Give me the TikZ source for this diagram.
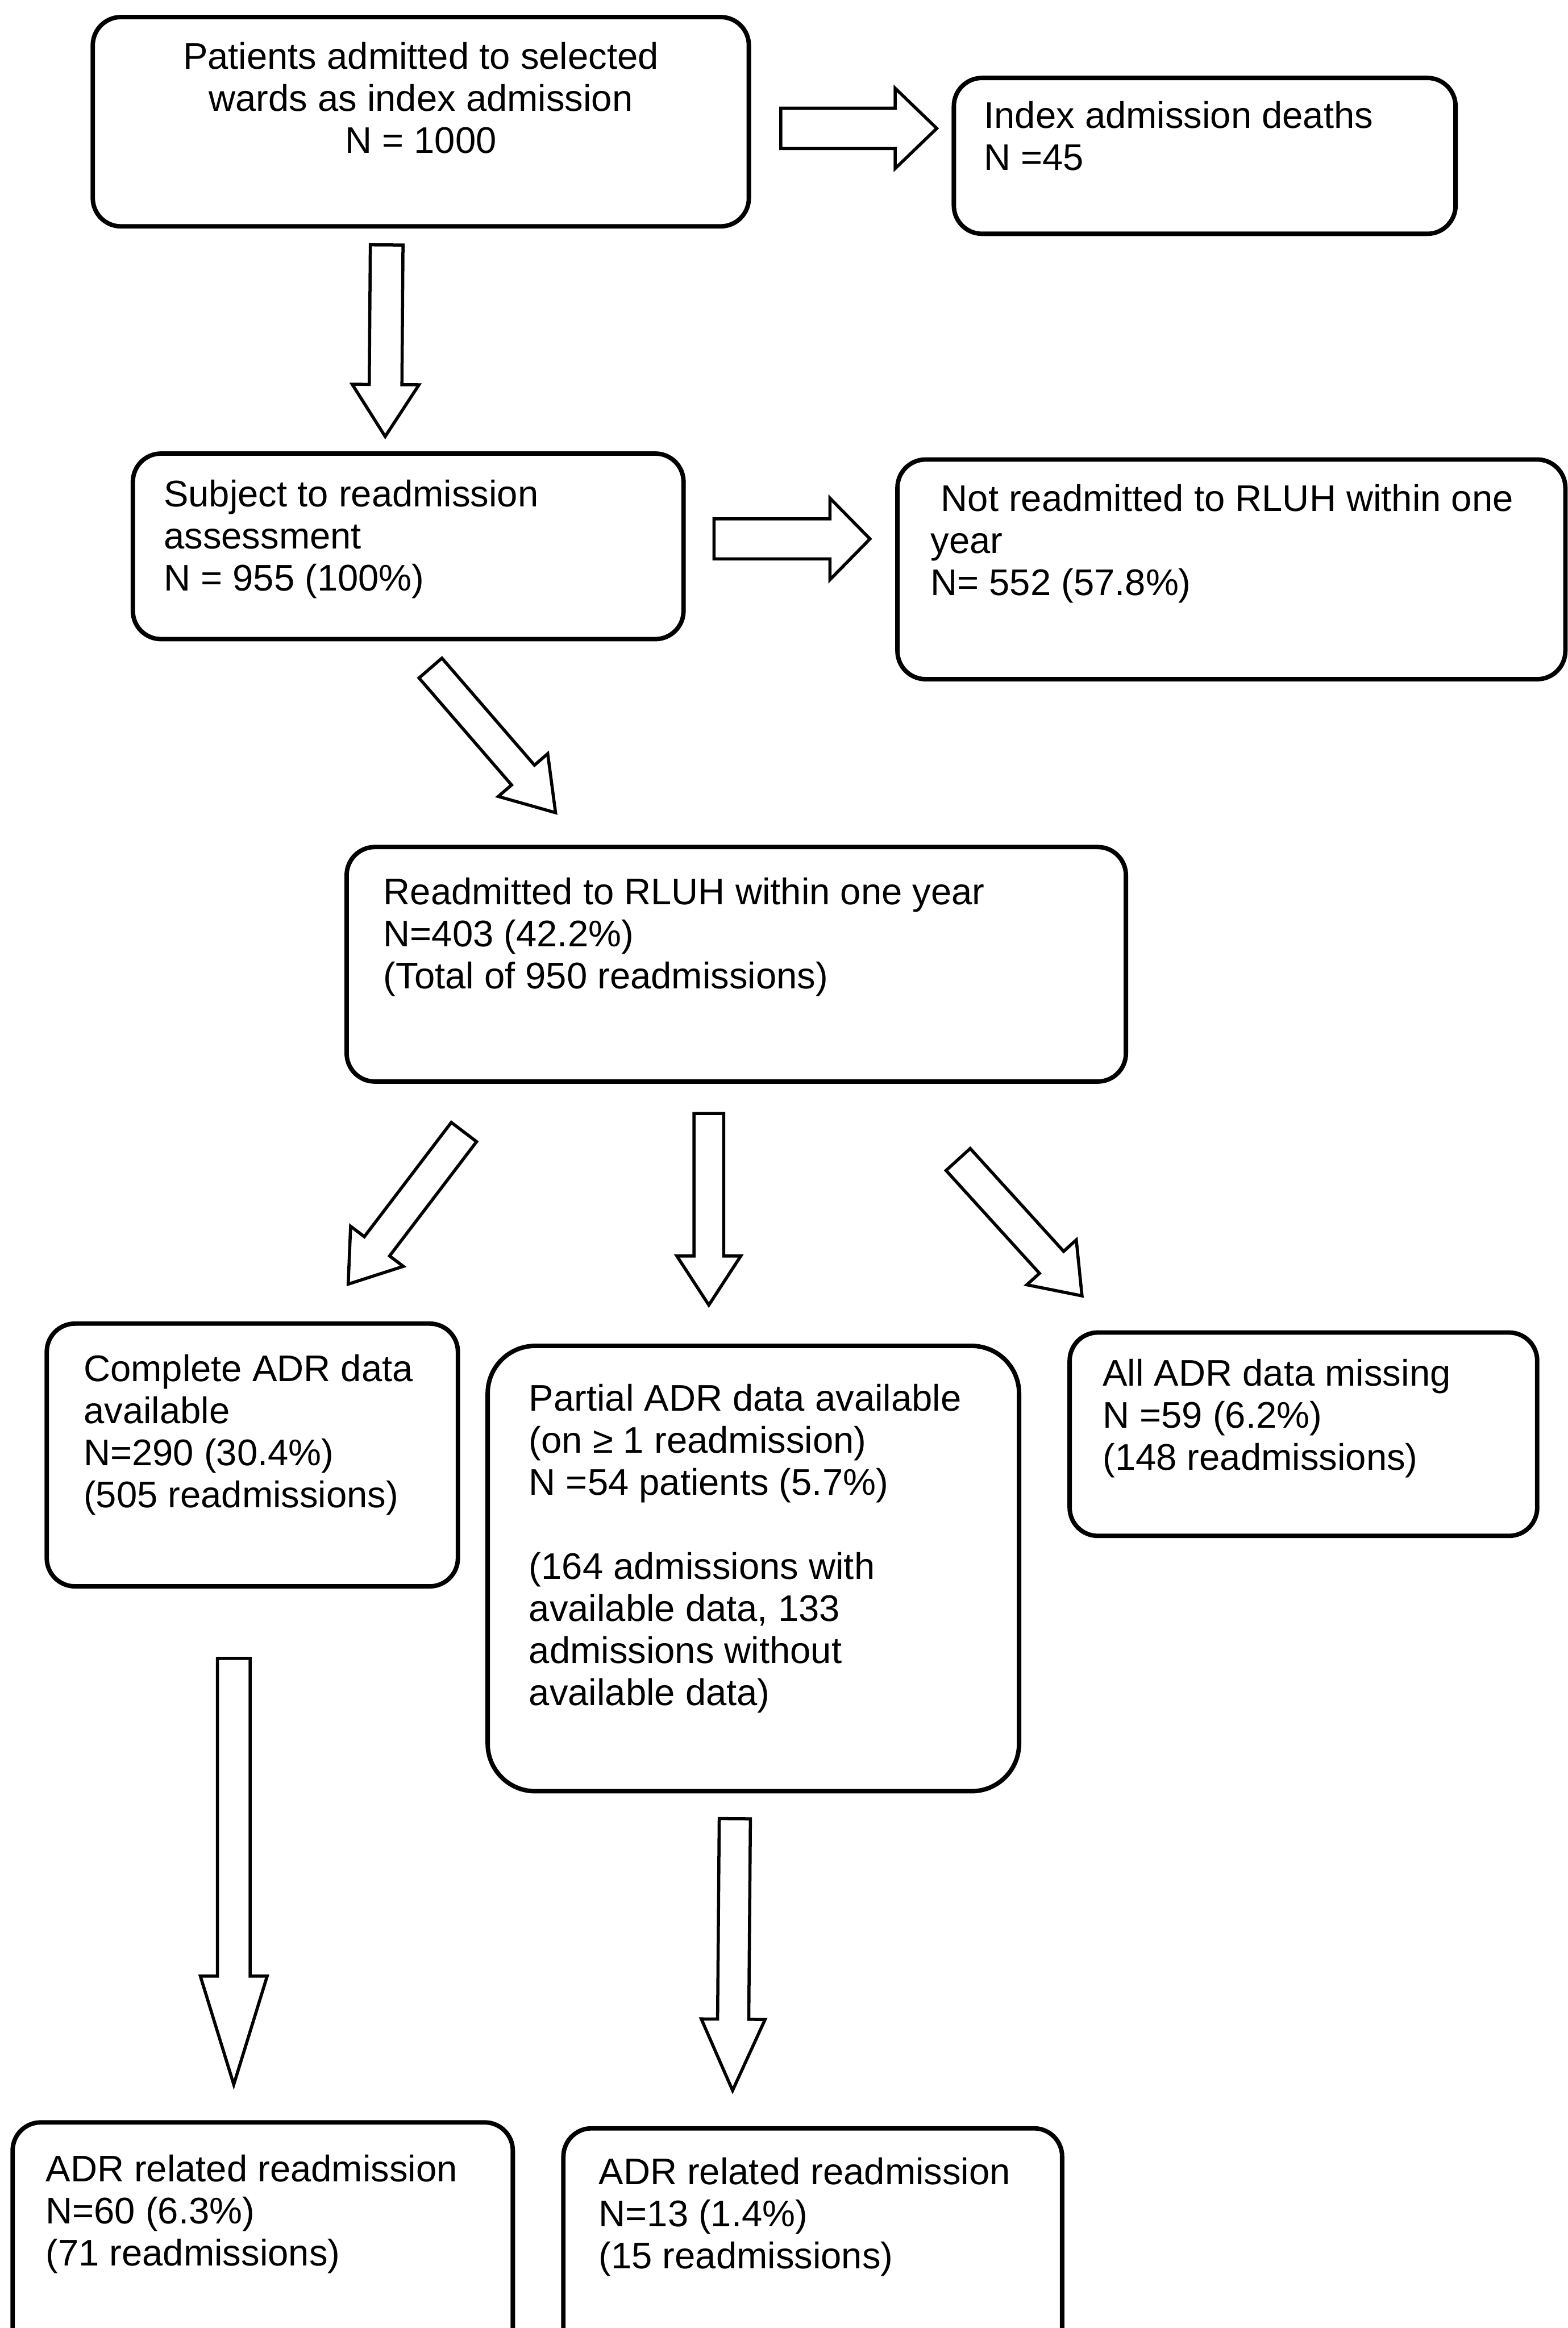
\documentclass[tikz,border=0pt]{standalone}
\usepackage{fontspec}
\setmainfont{Liberation Sans}
\usetikzlibrary{positioning,calc}
\newcommand\fatarrow[5]{%
  \draw[fat] let \p1=#1, \p2=#2, \n1={atan2(\y2-\y1,\x2-\x1)}, \n2={veclen(\x2-\x1,\y2-\y1)} in
    [shift={(\p1)},rotate=\n1]
    (0pt,{#3*0.02cm}) -- ({\n2-#5*0.02cm},{#3*0.02cm}) -- ({\n2-#5*0.02cm},{#4*0.02cm})
    -- ({\n2+0pt},0pt) -- ({\n2-#5*0.02cm},{-#4*0.02cm}) -- ({\n2-#5*0.02cm},{-#3*0.02cm})
    -- (0pt,{-#3*0.02cm}) -- cycle;}
\begin{document}
\begin{tikzpicture}[x=0.02cm,y=-0.02cm,font=\fontsize{14.2}{16.1}\selectfont,
panel/.style={draw,line width=1.7pt,rounded corners=0.38cm,anchor=north west,inner sep=0pt},
wide/.style={panel,rounded corners=0.64cm},
words/.style={inner sep=0pt,align=left},
fat/.style={draw,line width=1.2pt,line join=miter}]
\useasboundingbox (0,0) rectangle (1056,1568);
\clip (0,0) rectangle (1056,1568);

\node[panel,minimum width=8.84cm,minimum height=2.82cm] (adm) at (61,10) {};
\node[words,align=center,below=0.36cm of adm.north] (admtext)
  {Patients admitted to selected\\wards as index admission\\N = 1000};
\node[panel,minimum width=6.76cm,minimum height=2.10cm] (deaths) at (641,51) {};
\node[words,below right=0.34cm and 0.43cm of deaths.north west] (deathstext)
  {Index admission deaths\\N =45};

\node[panel,minimum width=7.42cm,minimum height=2.50cm] (assess) at (88,304) {};
\node[words,below right=0.38cm and 0.44cm of assess.north west] (assesstext)
  {Subject to readmission\\assessment\\N = 955 (100\%)};
\node[panel,minimum width=9.00cm,minimum height=2.96cm] (notread) at (603,308) {};
\node[words,below right=0.36cm and 0.47cm of notread.north west] (notreadtext)
  {\hspace*{0.28em}Not readmitted to RLUH within one\\year\\N= 552 (57.8\%)};

\node[panel,minimum width=10.50cm,minimum height=3.16cm] (readm) at (232,569) {};
\node[words,below right=0.44cm and 0.52cm of readm.north west] (readmtext)
  {Readmitted to RLUH within one year\\N=403 (42.2\%)\\(Total of 950 readmissions)};

\node[panel,minimum width=5.54cm,minimum height=3.54cm] (compl) at (30,890) {};
\node[words,below right=0.44cm and 0.52cm of compl.north west] (compltext)
  {Complete ADR data\\available\\N=290 (30.4\%)\\(505 readmissions)};
\node[wide,minimum width=7.16cm,minimum height=6.00cm] (partial) at (327,905) {};
\node[words,below right=0.54cm and 0.58cm of partial.north west] (partialtext)
  {Partial ADR data available\\(on ≥ 1 readmission)\\N =54 patients (5.7\%)\\[16.1pt]
   (164 admissions with\\available data, 133\\admissions without\\available data)};
\node[panel,minimum width=6.30cm,minimum height=2.74cm] (missing) at (719,896) {};
\node[words,below right=0.38cm and 0.47cm of missing.north west] (missingtext)
  {All ADR data missing\\N =59 (6.2\%)\\(148 readmissions)};

\node[panel,minimum width=6.74cm,minimum height=3.50cm] (relI) at (7,1428) {};
\node[words,below right=0.46cm and 0.47cm of relI.north west] (relItext)
  {ADR related readmission\\N=60 (6.3\%)\\(71 readmissions)};
\node[panel,minimum width=6.72cm,minimum height=3.50cm] (relJ) at (378,1432) {};
\node[words,below right=0.42cm and 0.50cm of relJ.north west] (relJtext)
  {ADR related readmission\\N=13 (1.4\%)\\(15 readmissions)};

\fatarrow{($(adm.east)+(20,4.5)$)}{($(deaths.west)+(-10,-18.5)$)}{13.6}{27}{28}
\fatarrow{($(adm.south)+(-23,11)$)}{($(assess.north)+(-15.5,-10)$)}{11}{22.5}{35}
\fatarrow{($(assess.east)+(19,-5)$)}{($(notread.west)+(-17,-20.5)$)}{13.5}{27.5}{27}
\fatarrow{($(assess.south)+(15,18)$)}{($(readm.north west)+(142.4,-21.4)$)}{10.2}{22}{33.5}
\fatarrow{($(readm.south west)+(80.5,32.5)$)}{($(compl.north)+(64.5,-25)$)}{10.7}{22.3}{32}
\fatarrow{($(readm.south)+(-18.5,20)$)}{($(partial.north)+(-30,-26)$)}{10}{21.5}{33}
\fatarrow{($(readm.south east)+(-114.5,51)$)}{($(missing.north west)+(10,-23)$)}{11}{22.5}{30.5}
\fatarrow{($(compl.south)+(-12.5,47)$)}{($(relI.north)+(-19.5,-24)$)}{11}{22.5}{73}
\fatarrow{($(partial.south)+(-12.5,17)$)}{($(relJ.north)+(-54,-24)$)}{10.5}{21.5}{48}
\end{tikzpicture}
\end{document}
